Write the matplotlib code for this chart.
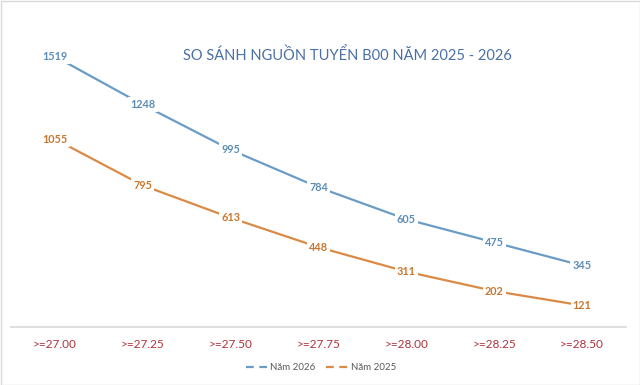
import matplotlib
matplotlib.use("Agg")
import matplotlib.pyplot as plt
from matplotlib.lines import Line2D
from matplotlib.patches import Rectangle

categories = [">=27.00", ">=27.25", ">=27.50", ">=27.75", ">=28.00", ">=28.25", ">=28.50"]
nam_2026 = [1519, 1248, 995, 784, 605, 475, 345]
nam_2025 = [1055, 795, 613, 448, 311, 202, 121]

plt.rcParams['font.family'] = ['Lato', 'DejaVu Sans']

fig = plt.figure(figsize=(6.4, 3.85), dpi=100)
ax = fig.add_axes([11/640, 1 - 327/385, 615/640, (327 - 42)/385])

x = list(range(len(categories)))

ax.plot(x, nam_2026, color="#6A9CC6", lw=1.6, solid_capstyle='round', zorder=2)
ax.plot(x, nam_2025, color="#DA8A45", lw=1.6, solid_capstyle='round', zorder=2)

for xi, v in zip(x, nam_2026):
    ax.text(xi, v, str(v), ha='center', va='center', fontsize=7.8, fontweight='bold',
            color="#5B8DB8", zorder=3,
            bbox=dict(boxstyle='square,pad=0.2', fc='white', ec='none'))
for xi, v in zip(x, nam_2025):
    ax.text(xi, v, str(v), ha='center', va='center', fontsize=7.8, fontweight='bold',
            color="#C9772F", zorder=3,
            bbox=dict(boxstyle='square,pad=0.2', fc='white', ec='none'))

ax.set_xlim(-0.5, 6.5)
ax.set_ylim(0, 1600)
ax.set_xticks(x)
ax.set_xticklabels(categories, color="#B0303A", fontsize=8.5)
ax.tick_params(axis='x', length=0, pad=9)
ax.set_yticks([])
for s in ['top', 'right', 'left']:
    ax.spines[s].set_visible(False)
ax.spines['bottom'].set_color("#D9D9D9")
ax.spines['bottom'].set_linewidth(1.2)

fig.text(347.5/640, 1 - 55/385, "SO SÁNH NGUỒN TUYỂN B00 NĂM 2025 - 2026", ha='center', va='center',
         fontsize=10.5, color="#4A6FA5")

handles = [Line2D([0], [0], color="#6A9CC6", lw=1.6, linestyle=(0, (3.5, 2.5))),
           Line2D([0], [0], color="#DA8A45", lw=1.6, linestyle=(0, (3.5, 2.5)))]
fig.legend(handles, ["Năm 2026", "Năm 2025"], loc='center', bbox_to_anchor=(321/640, 1 - 368/385),
           ncol=2, frameon=False, fontsize=7, labelcolor="#595959", handlelength=2.4,
           handletextpad=0.15, columnspacing=1.1)

fig.patches.append(Rectangle((0.5/640, 0.5/385), 1 - 1/640, 1 - 1/385, transform=fig.transFigure,
                             fill=False, ec="#D9D9D9", lw=1.0))

fig.savefig("out.png", dpi=100, facecolor='white')
